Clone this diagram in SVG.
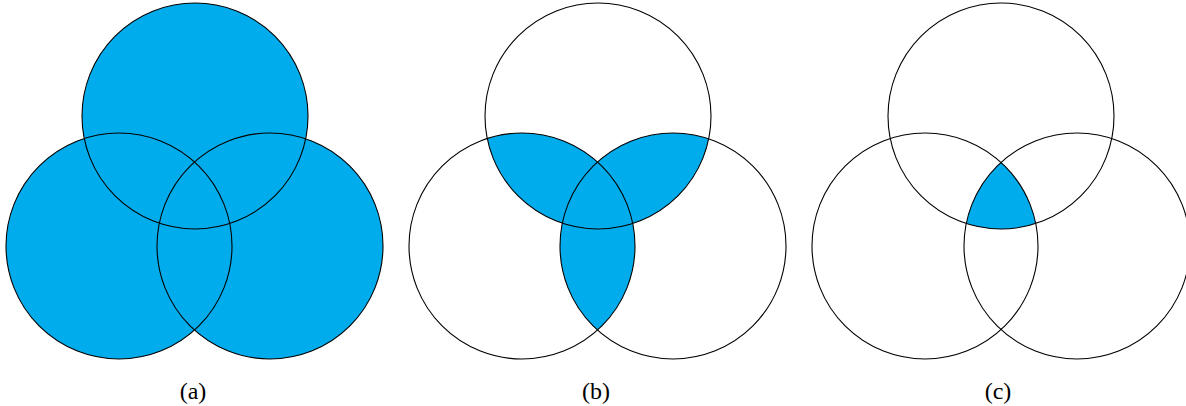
<svg xmlns="http://www.w3.org/2000/svg" width="1186" height="406" viewBox="0 0 1186 406">
<style>
.o{fill:none;stroke:#000;stroke-width:1.1}
.f{fill:#00ACEC}
.lbl{font-family:"Liberation Serif",serif;font-size:24px;text-anchor:middle}
</style>
<defs>
<clipPath id="bL"><circle cx="522" cy="246" r="113"/></clipPath>
<clipPath id="bR"><circle cx="673" cy="246" r="113"/></clipPath>
<clipPath id="cL"><circle cx="925" cy="246" r="113"/></clipPath>
<clipPath id="cR"><circle cx="1077" cy="246" r="113"/></clipPath>
</defs>
<g id="diagram-a">
<circle class="f" cx="195" cy="116" r="113"/>
<circle class="f" cx="119" cy="246" r="113"/>
<circle class="f" cx="270" cy="246" r="113"/>
<circle class="o" cx="195" cy="116" r="113"/>
<circle class="o" cx="119" cy="246" r="113"/>
<circle class="o" cx="270" cy="246" r="113"/>
<text class="lbl" x="193" y="399">(a)</text>
</g>
<g id="diagram-b">
<circle class="f" cx="598" cy="116" r="113" clip-path="url(#bL)"/>
<circle class="f" cx="598" cy="116" r="113" clip-path="url(#bR)"/>
<circle class="f" cx="522" cy="246" r="113" clip-path="url(#bR)"/>
<circle class="o" cx="598" cy="116" r="113"/>
<circle class="o" cx="522" cy="246" r="113"/>
<circle class="o" cx="673" cy="246" r="113"/>
<text class="lbl" x="596" y="399">(b)</text>
</g>
<g id="diagram-c">
<g clip-path="url(#cR)"><circle class="f" cx="1001" cy="116" r="113" clip-path="url(#cL)"/></g>
<circle class="o" cx="1001" cy="116" r="113"/>
<circle class="o" cx="925" cy="246" r="113"/>
<circle class="o" cx="1077" cy="246" r="113"/>
<text class="lbl" x="998" y="399">(c)</text>
</g>
<g id="connectors"/>
</svg>
